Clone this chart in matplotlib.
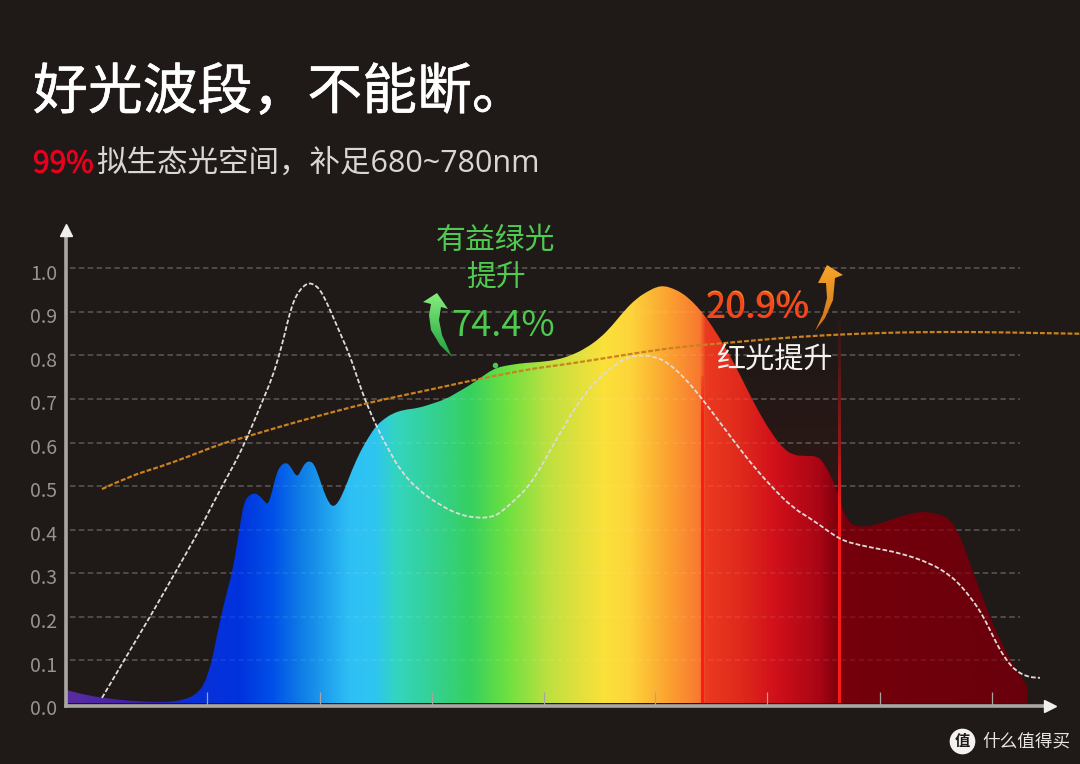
import numpy as np
import matplotlib
matplotlib.use('Agg')
import matplotlib.pyplot as plt
import matplotlib.patheffects as pe
from matplotlib.colors import LinearSegmentedColormap, to_rgb
from matplotlib.font_manager import FontProperties
from matplotlib.patches import PathPatch, Polygon
from matplotlib.path import Path
from matplotlib.textpath import TextPath
from matplotlib.transforms import Affine2D, ScaledTranslation

plt.rcParams['font.family'] = ['Noto Sans CJK SC', 'DejaVu Sans']

W, H = 1080, 764
BG = '#1f1917'

# spectrum outline, x is the picture column, y is the relative value
spec_x = [66, 85, 102, 130, 160, 175, 185, 193, 200, 205, 209, 212, 216, 221, 226, 232, 237, 241, 244, 248,
          254, 259, 264, 268, 272, 276, 280, 286, 291, 297, 302, 306, 310, 314, 319, 324, 329, 333, 338, 344,
          352, 360, 368, 376, 384, 392, 403, 418, 432, 446, 458, 470, 482, 492, 500, 512, 525, 540, 557, 572,
          586, 600, 612, 625, 637, 648, 657, 664, 672, 682, 692, 702, 712, 724, 736, 748, 760, 772, 783, 793,
          805, 817, 824, 832, 838, 843, 848, 853, 862, 875, 890, 905, 918, 930, 942, 950, 958, 965, 973, 982,
          992, 1002, 1010, 1020, 1025, 1027]
spec_y = [.031, .020, .013, .006, .003, .005, .010, .017, .031, .049, .077, .100, .146, .199, .249, .300, .365, .425, .461, .477,
          .484, .479, .466, .456, .486, .525, .546, .555, .544, .518, .541, .555, .557, .551, .521, .486, .461, .452, .461, .489,
          .537, .578, .610, .638, .654, .666, .675, .679, .689, .700, .716, .732, .751, .767, .774, .779, .783, .785, .790, .801,
          .817, .840, .868, .905, .932, .948, .958, .960, .955, .944, .925, .900, .868, .824, .774, .718, .665, .620, .587, .571,
          .569, .569, .553, .518, .484, .445, .422, .410, .406, .410, .422, .433, .440, .440, .433, .424, .394, .357, .302, .249,
          .187, .139, .100, .068, .049, .038]

# white dashed curve
white_x = [102, 126, 150, 175, 200, 220, 235, 247, 263, 272, 279, 285, 290, 295, 300, 305, 309, 315, 320, 325, 330, 340,
           350, 358, 365, 378, 390, 400, 418, 440, 460, 480, 490, 497, 507, 515, 530, 545, 560, 580, 600, 615, 627, 643,
           655, 667, 685, 703, 718, 733, 750, 770, 793, 813, 840, 860, 875, 900, 930, 950, 962, 970, 978, 985, 993, 1000,
           1008, 1015, 1027, 1040]
white_y = [.013, .107, .199, .300, .401, .491, .553, .610, .698, .748, .799, .852, .900, .932, .951, .962, .967, .962, .951, .930, .905, .852,
           .799, .744, .698, .629, .578, .537, .491, .456, .433, .426, .429, .433, .452, .468, .502, .560, .622, .698, .751, .778, .797, .801,
           .797, .785, .748, .698, .652, .606, .555, .502, .449, .422, .376, .364, .357, .346, .323, .295, .268, .245, .220, .192, .155, .123,
           .095, .077, .061, .059]

# orange dashed curve
orange_x = [102, 130, 160, 190, 221, 246, 275, 304, 336, 368, 400, 429, 455, 479, 510, 536, 560, 600, 637, 680, 727, 780,
            827, 880, 927, 980, 1030, 1080]
orange_y = [.493, .523, .544, .569, .597, .613, .633, .652, .672, .691, .707, .721, .734, .746, .760, .771, .778, .792, .806, .820, .829, .840,
            .847, .852, .854, .854, .852, .850]

y_ticks = [0.0, 0.1, 0.2, 0.3, 0.4, 0.5, 0.6, 0.7, 0.8, 0.9, 1.0]
x_ticks = [207, 320, 432, 544, 655, 767, 880, 992]
band_left, band_right = 702, 839

# colours of the rainbow fill, by column
stop_x = [66, 150, 190, 240, 272, 303, 350, 375, 396, 440, 470, 507, 550, 603, 630, 670, 700, 706, 740, 776, 820, 842, 880, 1030]
stop_c = ['#5a2ca0', '#3a1fb0', '#0a2fd8', '#0033dd', '#0050e8', '#1080e6', '#2fc0f5', '#2ec5f0', '#33d5c0', '#35d08a',
          '#35d060', '#6de040', '#c0e040', '#fbe13a', '#fdd53a', '#fba030', '#f87830', '#ea3a20', '#e02a1c', '#d0101a',
          '#a80515', '#74000b', '#72000b', '#68000b']


def smooth_path(xs, ys, close_to=None):
    # quadratic pieces through the midpoints, only rounds the drawing of the read points
    verts = [(xs[0], ys[0])]
    codes = [Path.MOVETO]
    for i in range(1, len(xs)-1):
        verts += [(xs[i], ys[i]), ((xs[i]+xs[i+1])/2, (ys[i]+ys[i+1])/2)]
        codes += [Path.CURVE3, Path.CURVE3]
    verts.append((xs[-1], ys[-1]))
    codes.append(Path.LINETO)
    if close_to is not None:
        verts += [(xs[-1], close_to), (xs[0], close_to), (xs[0], close_to)]
        codes += [Path.LINETO, Path.LINETO, Path.CLOSEPOLY]
    return Path(verts, codes)


fig = plt.figure(figsize=(W/100, H/100), dpi=100, facecolor=BG)
ax = fig.add_axes([66/W, 1-706/H, (1050-66)/W, (706-230)/H], facecolor=BG)
xlim = (66, 1050)
ylim = (-2.5/435, 473.5/435)

# tinted band for the red range, fades out upwards
band = np.zeros((100, 1, 4))
band[:, 0, :3] = to_rgb('#5e0f0f')
band[:, 0, 3] = np.linspace(0, 0.38, 100)**0.8
ax.imshow(band, extent=[band_left, band_right, 0, 0.8], aspect='auto', zorder=0.5)

# gridlines, faint again on top of the fill
grid_dash = (0, (3.6, 2.2))
ax.hlines(y_ticks[1:], 70, 1020, colors='#ffffff', alpha=0.2, lw=1.1, linestyles=grid_dash, zorder=0.7)
ax.hlines(y_ticks[1:], 70, 1020, colors='#ffffff', alpha=0.09, lw=1.1, linestyles=grid_dash, zorder=1.5)

# rainbow fill, an image clipped to the curve
pos = [(s-stop_x[0])/(stop_x[-1]-stop_x[0]) for s in stop_x]
rainbow = LinearSegmentedColormap.from_list('rainbow_fill', list(zip(pos, stop_c)), N=1024)
im = ax.imshow(np.linspace(0, 1, 1024)[np.newaxis], extent=[stop_x[0], stop_x[-1], 0, 1.05], aspect='auto', cmap=rainbow, zorder=1)
im.set_clip_path(smooth_path(spec_x, spec_y, close_to=0), transform=ax.transData)


def red_line(x, top, alpha_at, alpha_val):
    # vertical red line whose strength falls off upwards
    levels = np.linspace(top, 0, 200)
    strip = np.zeros((200, 1, 4))
    strip[:, 0, :3] = to_rgb('#ff1a1a')
    strip[:, 0, 3] = np.interp(levels, alpha_at, alpha_val)
    ax.imshow(strip, extent=[x-1.3, x+1.3, 0, top], aspect='auto', zorder=2, interpolation='bilinear')


red_line(band_left, 0.75, [0, 0.66, 0.75], [1, 1, 0.3])
red_line(band_right, 0.88, [0, 0.46, 0.6, 0.88], [1, 0.95, 0.5, 0.05])

# curves
ax.add_patch(PathPatch(smooth_path(orange_x, orange_y), fill=False, edgecolor='#c9821e', lw=1.6,
                       ls=(0, (2.2, 0.9)), capstyle='butt', zorder=3, clip_on=False))
ax.add_patch(PathPatch(smooth_path(white_x, white_y), fill=False, edgecolor='#dedbd8', lw=1.3,
                       ls=(0, (2.6, 1.2)), capstyle='butt', zorder=3))
ax.plot([495], [.778], 'o', color='#45c84f', ms=3, zorder=3)

ax.set_xlim(xlim)
ax.set_ylim(ylim)

# axes
for side in ['top', 'right']:
    ax.spines[side].set_visible(False)
for side in ['left', 'bottom']:
    ax.spines[side].set_color('#a9a7a5')
    ax.spines[side].set_linewidth(2.6)
ax.set_axisbelow(False)
ax.plot(0, 1, '^', color='#f2f0ee', ms=8, transform=ax.transAxes, clip_on=False, zorder=5)
ax.plot(1, 0, '>', color='#f2f0ee', ms=8, transform=ax.transAxes, clip_on=False, zorder=5)
ax.set_yticks(y_ticks)
ax.set_yticklabels(['%.1f' % v for v in y_ticks], fontsize=14, color='#979390')
ax.set_xticks(x_ticks)
ax.set_xticklabels([])
ax.tick_params(axis='y', length=0, pad=6.5)
ax.tick_params(axis='x', direction='in', length=10, width=0.9, color='#a8a4a2')
for lab in ax.get_yticklabels():
    lab.set_transform(lab.get_transform() + ScaledTranslation(0, -3.5/100, fig.dpi_scale_trans))


def py(v):
    return (703.5-v)/435


def gradient_arrow(points, top_color, bottom_color):
    pts = [(x, py(y)) for x, y in points]
    poly = Polygon(pts, closed=True, facecolor='none', edgecolor='none')
    ax.add_patch(poly)
    xs = [p[0] for p in pts]
    ys = [p[1] for p in pts]
    cm = LinearSegmentedColormap.from_list('arrow', [bottom_color, top_color])
    img = ax.imshow(np.linspace(1, 0, 64)[:, np.newaxis], extent=[min(xs), max(xs), min(ys), max(ys)],
                    aspect='auto', cmap=cm, zorder=4)
    img.set_clip_path(poly)


gradient_arrow([(437, 293), (448, 309), (441, 307), (439, 320), (442, 335), (452, 357), (440, 345), (431, 330),
                (429, 315), (431, 304), (423, 302)], '#86ee7c', '#20a040')
gradient_arrow([(827, 265), (843, 275), (835, 278), (833, 300), (825, 318), (815, 331), (823, 314), (827, 298),
                (826, 283), (818, 283)], '#f7a52a', '#d0701a')


def label(x, y, s, **kw):
    kw.setdefault('va', 'center')
    return fig.text(x/W, 1-y/H, s, **kw)


title = label(33, 93, '好光波段，不能断。', fontsize=39.5, color='#ffffff')
title.set_path_effects([pe.withStroke(linewidth=0.4, foreground='#ffffff')])
red_pct = label(33, 164, '99%', fontsize=21.5, color='#e8001e')
red_pct.set_path_effects([pe.withStroke(linewidth=0.6, foreground='#e8001e')])
label(96, 164, '拟生态光空间，补足680~780nm', fontsize=22, color='#d9d7d5',
      family=['Open Sans', 'Noto Sans CJK SC'])
label(496, 240, '有益绿光', fontsize=21.5, color='#4fc94f', ha='center')
label(496, 278, '提升', fontsize=21.5, color='#4fc94f', ha='center')
label(503, 326.5, '74.4%', fontsize=26, color='#4fc94f', ha='center')
label(774, 360, '红光提升', fontsize=21, color='#f4f2f0', ha='center')

# 20.9% runs from orange at the top to red at the bottom
pct_x, pct_base = 706, 317.5
label(pct_x, pct_base, '20.9%', fontsize=26, color='#f2481e', va='baseline')
pct_path = TextPath((0, 0), '20.9%', size=26*100/72, prop=FontProperties(family='Noto Sans CJK SC'))
pct_cm = LinearSegmentedColormap.from_list('pct', ['#f79a28', '#f2641f', '#ee1515'])
pct_im = ax.imshow(np.linspace(0, 1, 64)[:, np.newaxis], extent=[700, 815, py(320), py(286)], aspect='auto', cmap=pct_cm, zorder=4)
pct_im.set_clip_path(pct_path, transform=Affine2D().translate(pct_x, H-pct_base))

ax.set_xlim(xlim)
ax.set_ylim(ylim)

# watermark
ax.plot([962], [py(741)], 'o', color='#f4f2f0', ms=17.5, clip_on=False, zorder=5)
label(962, 741, '值', fontsize=11, color='#1f1917', ha='center', weight='bold')
label(982, 741, '什么值得买', fontsize=12.7, color='#e8e6e4')

fig.savefig('out.png', dpi=100, facecolor=BG)
